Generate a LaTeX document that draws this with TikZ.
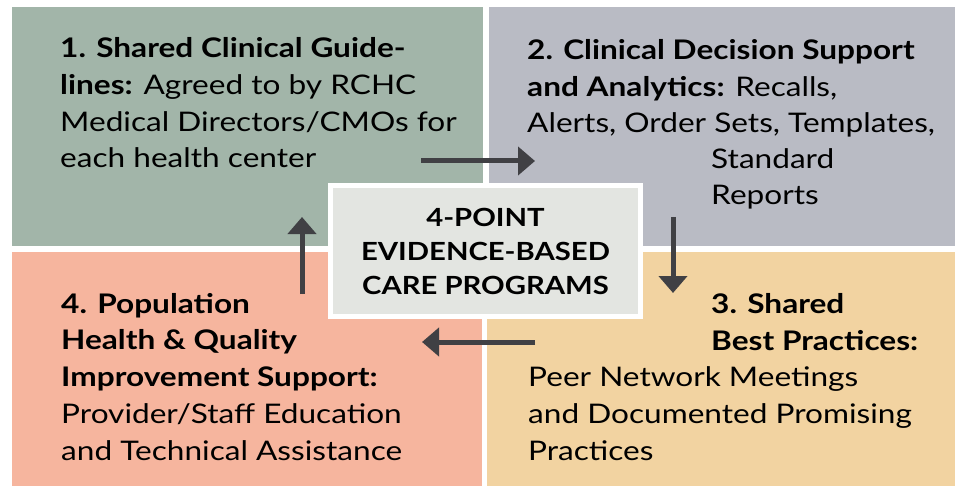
\documentclass[tikz,border=0pt]{standalone}
\usepackage{fontspec}
\setmainfont{Lato}[FakeStretch=1.17]
\usetikzlibrary{arrows.meta, positioning}

\definecolor{guidegreen}{HTML}{A2B5A9}
\definecolor{supportgray}{HTML}{B9BBC4}
\definecolor{practicetan}{HTML}{F2D3A1}
\definecolor{populationpink}{HTML}{F6B59E}
\definecolor{coregray}{HTML}{E3E5E1}
\definecolor{arrowdark}{HTML}{404044}

\begin{document}
\begin{tikzpicture}[x=1pt, y=-1pt, >={Triangle[width=28pt,length=17pt]},
    txt/.style={inner sep=0pt, align=left, anchor=base west, font=\fontsize{27}{36.7}\selectfont},
    flow/.style={->, draw=arrowdark, fill=arrowdark, line width=5pt}]
      \useasboundingbox[fill=white] (0,0) rectangle (957,486);

      % quadrants
      \fill[guidegreen] (12,7) rectangle (483,246);
      \fill[supportgray] (489,7) rectangle (955,246);
      \fill[populationpink] (12,252) rectangle (482,486);
      \fill[practicetan] (487,252) rectangle (955,486);

      % texts, anchored at the baseline of their last line
      \node[txt] (guide) at (60,168) {\textbf{1. Shared Clinical Guide-}\\
        \textbf{lines:} Agreed to by RCHC\\Medical Directors/CMOs for\\each health center};
      \node[txt] (decision) at (527,133) {\textbf{2. Clinical Decision Support}\\
        \textbf{and Analytics:} Recalls,\\Alerts, Order Sets, Templates,};
      \node[txt] (reports) at (711,205) {Standard\\Reports};
      \node[txt] (practice) at (711,350) {\textbf{3. Shared}\\\textbf{Best Practices:}};
      \node[txt] (peer) at (528,460) {Peer Network Meetings\\and Documented Promising\\Practices};
      \node[txt] (population) at (61,460) {\textbf{4. Population}\\\textbf{Health \& Quality}\\
        \textbf{Improvement Support:}\\Provider/Staff Education\\and Technical Assistance};

      \node[draw=white, line width=5pt, fill=coregray, minimum width=310pt, minimum height=131pt,
        align=center, font=\fontsize{25}{34}\selectfont\bfseries] (core) at (485.5,251)
        {4-POINT\\EVIDENCE-BASED\\CARE PROGRAMS};

      % cycle arrows
      \coordinate (a1) at (421,161);
      \coordinate (b1) at (535,161);
      \coordinate (a2) at (673,217);
      \coordinate (b2) at (673,293);
      \coordinate (a3) at (535,342);
      \coordinate (b3) at (422,342);
      \coordinate (a4) at (302,294);
      \coordinate (b4) at (302,217);
      \draw[flow] (a1) -- (b1);
      \draw[flow] (a2) -- (b2);
      \draw[flow] (a3) -- (b3);
      \draw[flow] (a4) -- (b4);
\end{tikzpicture}
\end{document}
